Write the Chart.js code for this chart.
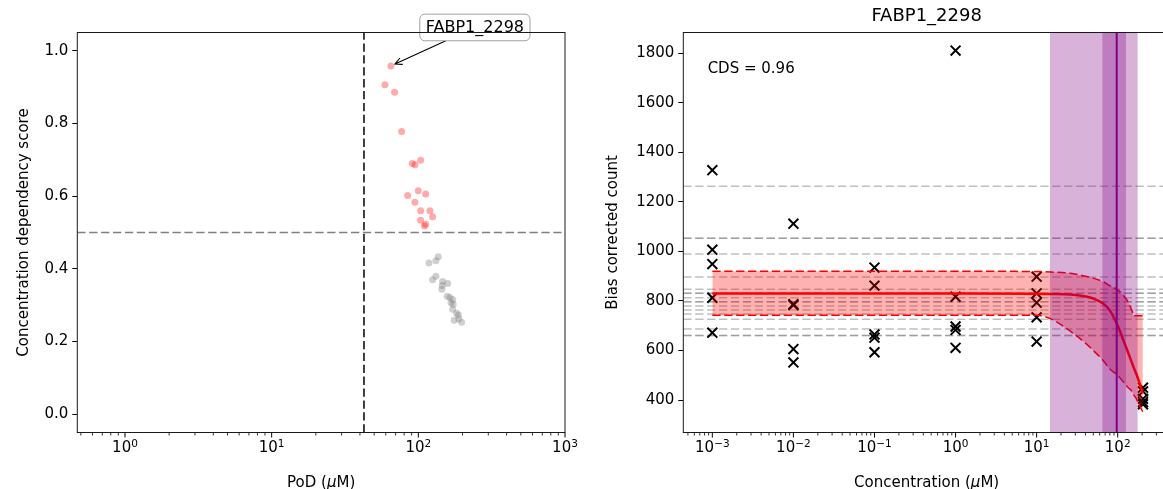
<!DOCTYPE html>
<html>
<head>
<meta charset="utf-8">
<script src="https://cdn.jsdelivr.net/npm/chart.js@4.4.1/dist/chart.umd.min.js"></script>
<style>
    html, body { margin: 0; padding: 0; background: #fff; overflow: hidden; }
    body { width: 1163px; height: 489px; position: relative; }
    canvas { position: absolute; top: 0; }
</style>
</head>
<body>
<canvas id="left" width="582" height="489" style="left:0px"></canvas>
<canvas id="right" width="600" height="489" style="left:590px"></canvas>
<script>
// ---- left panel: PoD vs concentration dependency score
const activePod = [65.0, 59.2, 68.9, 76.9, 90.9, 94.8, 103.7, 84.6, 99.8, 112.2, 94.8, 103.7, 120, 125.1, 103.7, 112.2, 110]
const activeCds = [0.958, 0.906, 0.886, 0.778, 0.690, 0.686, 0.699, 0.602, 0.615, 0.606, 0.583, 0.560, 0.560, 0.543, 0.534, 0.523, 0.518]
const inactivePod = [136.7, 131.8, 118.1, 131.8, 125.1, 146.5, 158.5, 145.4, 144.8, 157.4, 164.2, 171.3, 167.0, 172.8, 171.3, 182.4, 187.6, 175.5, 197.3, 189]
const inactiveCds = [0.433, 0.422, 0.416, 0.380, 0.370, 0.365, 0.360, 0.354, 0.344, 0.325, 0.321, 0.316, 0.307, 0.303, 0.289, 0.278, 0.273, 0.259, 0.253, 0.262]
const podCutoff = 42.6
const cdsCutoff = 0.5
const geneName = 'FABP1_2298'
const leftXTicks = [1, 10, 100, 1000]
const leftYTicks = [0, 0.2, 0.4, 0.6, 0.8, 1.0]
const leftXMin = 0.473, leftXMax = 1000

// ---- right panel: counts vs concentration
const countConc = [0.001, 0.001, 0.001, 0.001, 0.001,
    0.01, 0.01, 0.01, 0.01, 0.01,
    0.1, 0.1, 0.1, 0.1, 0.1,
    1, 1, 1, 1, 1,
    10, 10, 10, 10, 10,
    205, 205, 205, 205, 205]
const countValues = [1328, 1007, 949, 813, 672,
    1112, 787, 783, 606, 552,
    935, 862, 665, 652, 593,
    1811, 817, 697, 683, 611,
    898, 831, 793, 734, 636,
    450, 435, 405, 392, 383]
const controlLevels = [1263, 1053, 1053, 990, 897, 847, 831, 831, 813, 797, 797, 780, 764, 747, 726, 687, 661, 661]
const bandX     = [0.001, 0.01, 0.1, 1, 10, 15, 26, 40, 50, 66, 80, 100, 118, 135, 150, 158, 170, 185, 204]
const bandMean  = [830, 830, 830, 830, 829, 828, 826, 818, 810, 790, 762, 700, 640, 590, 550, 530, 505, 470, 427]
const bandUpper = [920, 920, 920, 920, 919, 917, 912, 900, 892, 878, 862, 845, 822, 795, 760, 740, 740, 740, 740]
const bandLower = [742, 742, 742, 742, 742, 728, 678, 630, 600, 560, 525, 500, 472, 450, 435, 420, 405, 378, 353]
const podWide = [14.6, 176]
const podNarrow = [64.6, 126.6]
const podBest = 97.2
const cdsText = 'CDS = 0.96'
const rightXTicks = [0.001, 0.01, 0.1, 1, 10, 100]
const rightYTicks = [400, 600, 800, 1000, 1200, 1400, 1600, 1800]
const rightXMin = 4.385e-4, rightXMax = 441.6
const rightYMin = 269, rightYMax = 1884

const FONT = '"DejaVu Sans", sans-serif'
const DASH = [8.3, 3.6]

const frame = {
    id: 'frame',
    afterDraw (chart) {
        const {ctx, chartArea: a} = chart
        ctx.save()
        ctx.strokeStyle = '#1a1a1a'
        ctx.lineWidth = 1
        ctx.strokeRect(a.left, a.top, a.right - a.left, a.bottom - a.top)
        ctx.restore()
    }
}

// log x axis with superscript labels, drawn through the chart's x scale
const logAxis = {
    id: 'logAxis',
    afterDraw (chart, args, opts) {
        const {ctx, chartArea: a, scales: {x}} = chart
        ctx.save()
        ctx.strokeStyle = '#000'
        const lo = Math.floor(Math.log10(x.min)), hi = Math.ceil(Math.log10(x.max))
        for (let e = lo; e <= hi; e++) {
            for (let k = 1; k < 10; k++) {
                const v = k * Math.pow(10, e)
                if (v < x.min || v > x.max) continue
                const px = x.getPixelForValue(v)
                ctx.lineWidth = k === 1 ? 1 : 0.8
                ctx.beginPath()
                ctx.moveTo(px, a.bottom)
                ctx.lineTo(px, a.bottom + (k === 1 ? 5 : 3))
                ctx.stroke()
            }
        }
        ctx.fillStyle = '#000'
        ctx.textBaseline = 'alphabetic'
        opts.ticks.forEach(v => {
            const e = Math.round(Math.log10(v))
            const sup = e < 0 ? '\u2212' + (-e) : String(e)
            const px = x.getPixelForValue(v)
            ctx.font = '15px ' + FONT
            const w1 = ctx.measureText('10').width
            ctx.font = '10.5px ' + FONT
            const w2 = ctx.measureText(sup).width
            const x0 = px - (w1 + w2) / 2
            ctx.font = '15px ' + FONT
            ctx.fillText('10', x0, a.bottom + 19.5)
            ctx.font = '10.5px ' + FONT
            ctx.fillText(sup, x0 + w1, a.bottom + 14)
        })
        // axis title, mu in italics
        const parts = opts.title
        let total = 0
        parts.forEach(p => {
            ctx.font = (p[1] ? 'italic ' : '') + '15px ' + FONT
            total += ctx.measureText(p[0]).width
        })
        let tx = (a.left + a.right) / 2 - total / 2
        parts.forEach(p => {
            ctx.font = (p[1] ? 'italic ' : '') + '15px ' + FONT
            ctx.fillText(p[0], tx, a.bottom + 54)
            tx += ctx.measureText(p[0]).width
        })
        ctx.restore()
    }
}

const annotate = {
    id: 'annotate',
    afterDatasetsDraw (chart) {
        const {ctx, scales: {x, y}} = chart
        const px = x.getPixelForValue(activePod[0]), py = y.getPixelForValue(activeCds[0])
        const cx = px + 84, cy = py - 38.5
        ctx.save()
        ctx.font = '16px ' + FONT
        const w = ctx.measureText(geneName).width
        const bx = cx - w / 2 - 6, bw = w + 12, by = cy - 13.3, bh = 26.6
        const dx = px - cx, dy = py - cy, len = Math.hypot(dx, dy)
        const ux = dx / len, uy = dy / len
        const t0 = (by + bh - cy) / uy
        const sx = cx + ux * t0, sy = cy + uy * t0
        const ex = px - ux * 4.5, ey = py - uy * 4.5
        ctx.strokeStyle = '#000'
        ctx.lineWidth = 1.1
        ctx.beginPath()
        ctx.moveTo(sx, sy)
        ctx.lineTo(ex, ey)
        const hx = ex - ux * 7, hy = ey - uy * 7
        ctx.moveTo(hx - uy * 3.5, hy + ux * 3.5)
        ctx.lineTo(ex, ey)
        ctx.lineTo(hx + uy * 3.5, hy - ux * 3.5)
        ctx.stroke()
        ctx.beginPath()
        ctx.roundRect(bx, by, bw, bh, 5)
        ctx.fillStyle = '#fff'
        ctx.fill()
        ctx.strokeStyle = '#a0a0a0'
        ctx.lineWidth = 1
        ctx.stroke()
        ctx.fillStyle = '#000'
        ctx.textAlign = 'center'
        ctx.textBaseline = 'middle'
        ctx.fillText(geneName, cx, cy + 0.5)
        ctx.restore()
    }
}

const spans = {
    id: 'spans',
    afterDatasetsDraw (chart) {
        const {ctx, chartArea: a, scales: {x}} = chart
        ctx.save()
        ctx.fillStyle = 'rgba(128,0,128,0.3)'
        ;[podWide, podNarrow].forEach(s => {
            const x1 = x.getPixelForValue(s[0]), x2 = x.getPixelForValue(s[1])
            ctx.fillRect(x1, a.top, x2 - x1, a.bottom - a.top)
        })
        const xb = x.getPixelForValue(podBest)
        ctx.strokeStyle = 'purple'
        ctx.lineWidth = 2
        ctx.beginPath()
        ctx.moveTo(xb, a.top)
        ctx.lineTo(xb, a.bottom)
        ctx.stroke()
        ctx.fillStyle = '#000'
        ctx.font = '15px ' + FONT
        ctx.textBaseline = 'alphabetic'
        ctx.fillText(cdsText, a.left + 0.05 * (a.right - a.left), a.bottom - 0.9 * (a.bottom - a.top))
        ctx.restore()
    }
}

const yScale = (min, max, ticks, fmt, width, title, titlePad) => ({
    type: 'linear',
    min: min,
    max: max,
    afterBuildTicks: s => { s.ticks = ticks.map(v => ({value: v})) },
    afterFit: s => { s.width = width },
    ticks: {callback: fmt, font: {family: FONT, size: 15}, color: '#000', padding: 4},
    grid: {drawOnChartArea: false, drawTicks: true, tickLength: 5, tickColor: '#000', tickWidth: 1},
    border: {display: false},
    title: {display: true, text: title, font: {family: FONT, size: 15}, color: '#000', padding: {top: titlePad, bottom: 0}}
})

const xScale = (min, max) => ({
    type: 'logarithmic',
    min: min,
    max: max,
    afterFit: s => { s.height = 56.5 },
    ticks: {display: false},
    grid: {display: false},
    border: {display: false}
})

const hline = (v, x0, x1, color) => ({
    type: 'line',
    data: [{x: x0, y: v}, {x: x1, y: v}],
    borderColor: color,
    borderWidth: 1.5,
    borderDash: DASH,
    pointRadius: 0
})

new Chart(document.getElementById('left'), {
    type: 'scatter',
    data: {
        datasets: [
            {
                data: activePod.map((v, i) => ({x: v, y: activeCds[i]})),
                backgroundColor: 'rgba(255,0,0,0.33)',
                borderWidth: 0,
                pointRadius: 3.5
            },
            {
                data: inactivePod.map((v, i) => ({x: v, y: inactiveCds[i]})),
                backgroundColor: 'rgba(128,128,128,0.38)',
                borderWidth: 0,
                pointRadius: 3.5
            },
            hline(cdsCutoff, leftXMin, leftXMax, 'gray'),
            {
                type: 'line',
                data: [{x: podCutoff, y: -0.05}, {x: podCutoff, y: 1.05}],
                borderColor: '#000',
                borderWidth: 1.5,
                borderDash: DASH,
                pointRadius: 0
            }
        ]
    },
    options: {
        responsive: false,
        animation: false,
        events: [],
        layout: {padding: {top: 32.5, right: 17, left: 0, bottom: 0}},
        plugins: {
            legend: {display: false},
            tooltip: {enabled: false},
            logAxis: {ticks: leftXTicks, title: [['PoD (', false], ['\u03bc', true], ['M)', false]]}
        },
        scales: {
            x: xScale(leftXMin, leftXMax),
            y: yScale(-0.05, 1.05, leftYTicks, v => v.toFixed(1), 77.3, 'Concentration dependency score', 15)
        }
    },
    plugins: [annotate, logAxis, frame]
})

new Chart(document.getElementById('right'), {
    type: 'scatter',
    data: {
        datasets: [
            {
                type: 'line',
                data: bandX.map((v, i) => ({x: v, y: bandMean[i]})),
                borderColor: 'red',
                borderWidth: 2.5,
                pointRadius: 0,
                cubicInterpolationMode: 'monotone'
            },
            {
                type: 'line',
                data: bandX.map((v, i) => ({x: v, y: bandUpper[i]})),
                borderColor: 'red',
                borderWidth: 1.5,
                borderDash: DASH,
                pointRadius: 0,
                cubicInterpolationMode: 'monotone',
                fill: '+1',
                backgroundColor: 'rgba(255,0,0,0.3)'
            },
            {
                type: 'line',
                data: bandX.map((v, i) => ({x: v, y: bandLower[i]})),
                borderColor: 'red',
                borderWidth: 1.5,
                borderDash: DASH,
                pointRadius: 0,
                cubicInterpolationMode: 'monotone'
            },
            {
                data: countConc.map((v, i) => ({x: v, y: countValues[i]})),
                pointStyle: 'crossRot',
                pointRadius: 7,
                borderColor: '#000',
                borderWidth: 2
            }
        ].concat(controlLevels.map(v => hline(v, rightXMin, rightXMax, 'rgba(128,128,128,0.5)')))
    },
    options: {
        responsive: false,
        animation: false,
        events: [],
        layout: {padding: {top: 0, right: 20, left: 0, bottom: 0}},
        plugins: {
            legend: {display: false},
            tooltip: {enabled: false},
            title: {
                display: true,
                text: geneName,
                fullSize: false,
                color: '#000',
                font: {family: FONT, size: 18, weight: 'normal'},
                padding: {top: 5.5, bottom: 5.4}
            },
            logAxis: {ticks: rightXTicks, title: [['Concentration (', false], ['\u03bc', true], ['M)', false]]}
        },
        scales: {
            x: xScale(rightXMin, rightXMax),
            y: yScale(rightYMin, rightYMax, rightYTicks, v => String(v), 93.3, 'Bias corrected count', 14.3)
        }
    },
    plugins: [spans, logAxis, frame]
})
</script>
</body>
</html>
